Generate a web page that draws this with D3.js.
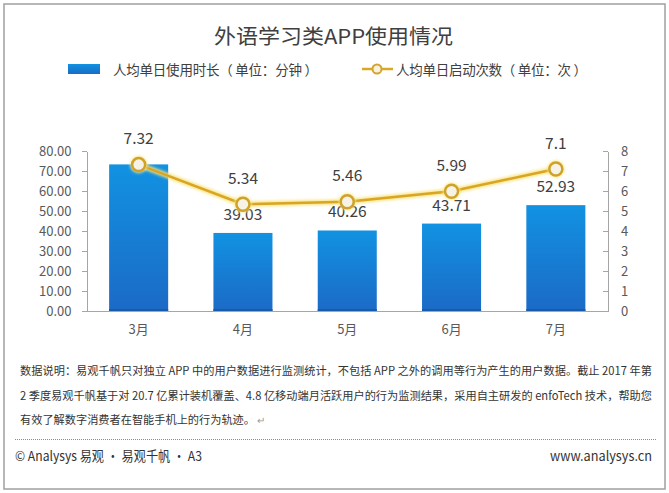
<!DOCTYPE html>
<html>
<head>
  <script src="https://d3js.org/d3.v7.min.js"></script>
  <meta charset="utf-8">
  <title>外语学习类APP使用情况</title>
  <style>
    body {margin: 0; background: #fff;
          font-family: "Noto Sans CJK SC", "Noto Sans", sans-serif;}
    .axis path, .axis line {stroke: #a6a6a6; shape-rendering: crispEdges;}
    .axis text {fill: #595959; font-size: 13px; font-family: "Noto Sans CJK SC", sans-serif;}
  </style>
</head>
<body>
  <div id="chart"></div>
  <script>
    /* Data */
    const months = ["3月", "4月", "5月", "6月", "7月"];
    const durationMinutes = [73.3, 39.03, 40.26, 43.71, 52.93];
    const dailyLaunches = [7.32, 5.34, 5.46, 5.99, 7.1];
    const hiddenBarLabels = ["3月"];

    const title = "外语学习类APP使用情况";
    const barLegend = "人均单日使用时长（ 单位：分钟 ）";
    const lineLegend = "人均单日启动次数（ 单位：次 ）";
    const noteLines = [
      "数据说明：易观千帆只对独立 APP 中的用户数据进行监测统计，不包括 APP 之外的调用等行为产生的用户数据。截止 2017 年第",
      "2 季度易观千帆基于对 20.7 亿累计装机覆盖、4.8 亿移动端月活跃用户的行为监测结果，采用自主研发的 enfoTech 技术，帮助您",
      "有效了解数字消费者在智能手机上的行为轨迹。"
    ];
    const footerLeft = "© Analysys 易观 · 易观千帆 · A3";
    const footerRight = "www.analysys.cn";

    const data = months.map((m, i) => ({month: m, minutes: durationMinutes[i], launches: dailyLaunches[i]}));

    /* Canvas */
    const W = 669, H = 493;
    const svg = d3.select("#chart").append("svg")
                  .attr("width", W).attr("height", H);

    const defs = svg.append("defs");
    const grad = defs.append("linearGradient")
                     .attr("id", "barGrad")
                     .attr("x1", 0).attr("y1", 0).attr("x2", 0).attr("y2", 1);
    grad.append("stop").attr("offset", "0%").attr("stop-color", "#1292e2");
    grad.append("stop").attr("offset", "100%").attr("stop-color", "#1b6ac6");

    const glow = defs.append("filter").attr("id", "glow")
                     .attr("x", "-10%").attr("y", "-50%").attr("width", "120%").attr("height", "200%");
    glow.append("feGaussianBlur").attr("stdDeviation", 1.5);

    // outer frame
    svg.append("rect")
       .attr("x", 4).attr("y", 4).attr("width", 661).attr("height", 485)
       .attr("fill", "none").attr("stroke", "#a0a0a0").attr("stroke-width", 1.5);

    // title
    svg.append("text")
       .attr("x", 214).attr("y", 35)
       .attr("dominant-baseline", "central")
       .attr("font-size", 20.5).attr("fill", "#404040")
       .attr("textLength", 239).attr("lengthAdjust", "spacingAndGlyphs")
       .text(title);

    /* Legend */
    svg.append("rect")
       .attr("x", 68).attr("y", 64).attr("width", 32).attr("height", 10)
       .attr("fill", "url(#barGrad)");
    svg.append("text")
       .attr("x", 113).attr("y", 69).attr("dominant-baseline", "central")
       .attr("font-size", 13.5).attr("fill", "#404040")
       .attr("textLength", 205).attr("lengthAdjust", "spacing")
       .text(barLegend);

    svg.append("line")
       .attr("x1", 362).attr("x2", 393).attr("y1", 69).attr("y2", 69)
       .attr("stroke", "#dba823").attr("stroke-width", 2.5);
    svg.append("circle")
       .attr("cx", 377).attr("cy", 69).attr("r", 4.5)
       .attr("fill", "#f6f1e2").attr("stroke", "#d4a52a").attr("stroke-width", 2);
    svg.append("text")
       .attr("x", 396).attr("y", 69).attr("dominant-baseline", "central")
       .attr("font-size", 13.5).attr("fill", "#404040")
       .attr("textLength", 191).attr("lengthAdjust", "spacing")
       .text(lineLegend);

    /* Scales and axes */
    const plot = {left: 86.5, right: 608, top: 151, bottom: 311};

    const x = d3.scaleBand()
                .domain(months)
                .range([plot.left, plot.right])
                .paddingInner(0.434)
                .paddingOuter(0.217);
    const yLeft = d3.scaleLinear().domain([0, 80]).range([plot.bottom, plot.top]);
    const yRight = d3.scaleLinear().domain([0, 8]).range([plot.bottom, plot.top]);

    svg.append("g")
       .attr("class", "axis")
       .attr("transform", `translate(${plot.left},0)`)
       .call(d3.axisLeft(yLeft).ticks(8).tickFormat(d3.format(".2f")).tickSize(5).tickSizeOuter(0).tickPadding(10));

    const rightAxis = svg.append("g")
       .attr("class", "axis")
       .attr("transform", `translate(${plot.right},0)`)
       .call(d3.axisRight(yRight).ticks(8).tickSize(-5).tickSizeOuter(0).tickPadding(13));
    rightAxis.selectAll(".tick text").attr("x", 13);

    const xAxis = svg.append("g")
       .attr("class", "axis")
       .attr("transform", `translate(0,${plot.bottom})`)
       .call(d3.axisBottom(x).tickSize(0).tickPadding(14));
    xAxis.selectAll(".tick text").attr("font-size", 13);

    /* Bars */
    svg.selectAll(".bar")
       .data(data)
       .enter()
       .append("rect")
       .attr("class", "bar")
       .attr("x", d => x(d.month))
       .attr("y", d => yLeft(d.minutes))
       .attr("width", x.bandwidth())
       .attr("height", d => yLeft(0) - yLeft(d.minutes))
       .attr("fill", "url(#barGrad)");

    svg.selectAll(".bar-base")
       .data(data)
       .enter()
       .append("line")
       .attr("x1", d => x(d.month)).attr("x2", d => x(d.month) + x.bandwidth())
       .attr("y1", yLeft(0) - 1).attr("y2", yLeft(0) - 1)
       .attr("stroke", "#1a5aa6").attr("stroke-width", 2);

    // redraw baseline over bars
    svg.append("line")
       .attr("x1", plot.left).attr("x2", plot.right)
       .attr("y1", plot.bottom + 0.5).attr("y2", plot.bottom + 0.5)
       .attr("stroke", "#a6a6a6");

    svg.selectAll(".bar-label")
       .data(data.filter(d => !hiddenBarLabels.includes(d.month)))
       .enter()
       .append("text")
       .attr("class", "bar-label")
       .attr("x", d => x(d.month) + x.bandwidth() / 2)
       .attr("y", d => yLeft(d.minutes) - 20)
       .attr("text-anchor", "middle").attr("dominant-baseline", "central")
       .attr("font-size", 15.5).attr("fill", "#404040")
       .text(d => d3.format(".2f")(d.minutes));

    /* Line series */
    const line = d3.line()
                   .x(d => x(d.month) + x.bandwidth() / 2)
                   .y(d => yRight(d.launches));

    svg.append("path")
       .datum(data)
       .attr("d", line)
       .attr("fill", "none")
       .attr("stroke", "#f8e27a")
       .attr("stroke-width", 5)
       .attr("filter", "url(#glow)");

    svg.append("path")
       .datum(data)
       .attr("d", line)
       .attr("fill", "none")
       .attr("stroke", "#d9a522")
       .attr("stroke-width", 2.5);

    svg.selectAll(".marker-glow")
       .data(data)
       .enter()
       .append("circle")
       .attr("cx", d => x(d.month) + x.bandwidth() / 2)
       .attr("cy", d => yRight(d.launches))
       .attr("r", 8.5)
       .attr("fill", "#f9e88c")
       .attr("filter", "url(#glow)");

    svg.selectAll(".marker")
       .data(data)
       .enter()
       .append("circle")
       .attr("class", "marker")
       .attr("cx", d => x(d.month) + x.bandwidth() / 2)
       .attr("cy", d => yRight(d.launches))
       .attr("r", 6.5)
       .attr("fill", "#f6f2e6")
       .attr("stroke", "#cfa229")
       .attr("stroke-width", 2.5);

    svg.selectAll(".line-label")
       .data(data)
       .enter()
       .append("text")
       .attr("class", "line-label")
       .attr("x", d => x(d.month) + x.bandwidth() / 2)
       .attr("y", d => yRight(d.launches) - 27.5)
       .attr("text-anchor", "middle").attr("dominant-baseline", "central")
       .attr("font-size", 15.5).attr("fill", "#404040")
       .text(d => d.launches);

    /* Note paragraph */
    const noteY = [370, 394.5, 419];
    const note = svg.append("g");
    noteLines.forEach((t, i) => {
      const txt = note.append("text")
          .attr("x", 20).attr("y", noteY[i])
          .attr("dominant-baseline", "central")
          .attr("font-size", 11.2).attr("fill", "#333")
          .text(t);
      if (i < noteLines.length - 1) {
        txt.attr("textLength", 632).attr("lengthAdjust", "spacing");
      } else {
        txt.append("tspan").attr("fill", "#999").attr("font-size", 10).text(" ↵");
      }
    });

    // dotted separator
    svg.append("line")
       .attr("x1", 15).attr("x2", 657).attr("y1", 439.5).attr("y2", 439.5)
       .attr("stroke", "#8a8a8a").attr("stroke-width", 1)
       .attr("stroke-dasharray", "1,1");

    /* Footer */
    svg.append("text")
       .attr("x", 15).attr("y", 455).attr("dominant-baseline", "central")
       .attr("font-size", 13.5).attr("fill", "#333")
       .attr("textLength", 187).attr("lengthAdjust", "spacingAndGlyphs")
       .text(footerLeft);
    svg.append("text")
       .attr("x", 652).attr("y", 455).attr("dominant-baseline", "central")
       .attr("text-anchor", "end")
       .attr("font-size", 13.5).attr("fill", "#333")
       .attr("textLength", 102).attr("lengthAdjust", "spacingAndGlyphs")
       .text(footerRight);
  </script>
</body>
</html>
